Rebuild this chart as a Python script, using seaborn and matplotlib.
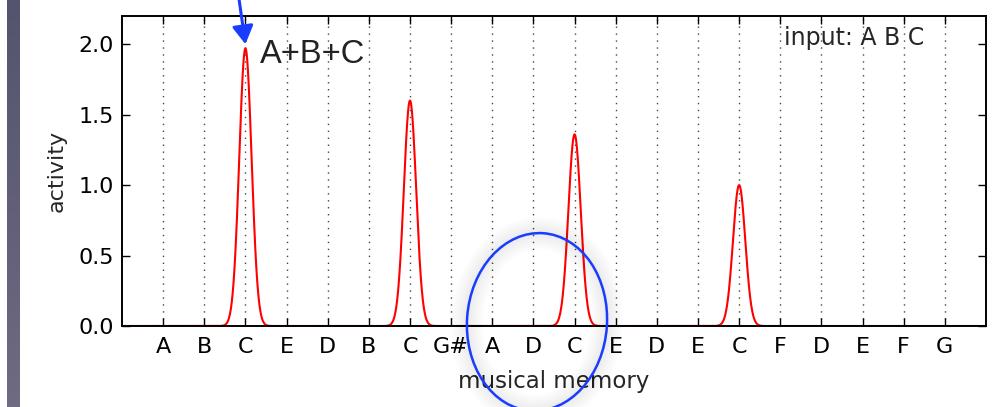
import numpy as np
import pandas as pd
import matplotlib
matplotlib.use("Agg")
import matplotlib.pyplot as plt
from matplotlib.patches import Ellipse
import seaborn as sns

# Memory slots along the x axis and the activity each slot receives
notes = ["A", "B", "C", "E", "D", "B", "C", "G#", "A", "D",
         "C", "E", "D", "E", "C", "F", "D", "E", "F", "G"]
slot_activity = [0, 0, 1.97, 0, 0, 0, 1.60, 0, 0, 0,
                 1.36, 0, 0, 0, 1.00, 0, 0, 0, 0, 0]
y_ticks = [0.0, 0.5, 1.0, 1.5, 2.0]

# Smooth activity profile: each slot contributes a narrow bump
kernel_sigma = 0.15
xs = np.linspace(-1, len(notes), 4000)
profile = np.zeros_like(xs)
for i, a in enumerate(slot_activity):
    profile += a * np.exp(-(xs - i) ** 2 / (2 * kernel_sigma ** 2))
df = pd.DataFrame({"slot": xs, "activity": profile})

sns.set_style("ticks")
plt.rcParams["font.family"] = ["DejaVu Sans"]

W, H = 1005, 407
fig = plt.figure(figsize=(W / 100, H / 100), dpi=100)

ax = fig.add_axes([122 / W, 1 - 326 / H, (986 - 122) / W, (326 - 16) / H])
sns.lineplot(data=df, x="slot", y="activity", color="red", lw=1.5, ax=ax)

FS = 16
ax.set_xlim(-1, len(notes))
ax.set_ylim(0, 2.2)
ax.set_xticks(range(len(notes)))
ax.set_xticklabels(notes, fontsize=FS)
ax.set_yticks(y_ticks)
ax.set_yticklabels([f"{t:.1f}" for t in y_ticks], fontsize=FS)
ax.set_xlabel("musical memory", fontsize=FS + 0.5, labelpad=9)
ax.set_ylabel("activity", fontsize=FS, labelpad=8)
ax.tick_params(direction="in", top=True, right=True, length=6, width=1,
               colors="black")
ax.tick_params(axis="x", pad=8)
ax.tick_params(axis="y", pad=6)
for s in ax.spines.values():
    s.set_linewidth(1.4)
    s.set_color("black")
ax.xaxis.grid(True, color="#444444", lw=1.0, linestyle=(0, (1, 4)))
ax.yaxis.grid(False)

ax.text(0.929, 0.93, "input: A B C", transform=ax.transAxes,
        ha="right", va="center", fontsize=FS + 1)

# Arrow to the strongest peak and its label
ax.annotate("", xy=(2.0, 2.0), xytext=(1.82, 2.37),
            arrowprops=dict(arrowstyle="-|>,head_length=0.55,head_width=0.32",
                            mutation_scale=20, color="#1a3cff", lw=2.2,
                            shrinkA=0, shrinkB=0),
            annotation_clip=False)
ax.text(2.36, 1.93, "A+B+C", fontsize=23.5, family="Liberation Sans",
        color="#222222", ha="left", va="center")

# Figure-level overlay in pixel coordinates
ov = fig.add_axes([0, 0, 1, 1], zorder=5)
ov.set_xlim(0, W)
ov.set_ylim(H, 0)
ov.axis("off")
ov.patch.set_alpha(0)

# faint haze around the ellipse
for k in range(10):
    ov.add_patch(Ellipse((537, 322), 140, 178, angle=4, fill=False,
                         lw=2 + k * 2.4, edgecolor="#000000",
                         alpha=0.007))
ov.add_patch(Ellipse((537, 322), 140, 178, angle=4, fill=False,
                     lw=1.8, edgecolor="#1a3cff"))

# slate bar on the left edge
grad = np.linspace(0, 1, 100).reshape(-1, 1)
cmap = matplotlib.colors.LinearSegmentedColormap.from_list(
    "slate", ["#54546e", "#6e6b82"])
ov.imshow(grad, cmap=cmap, extent=(7, 20, H, 0), aspect="auto", zorder=1)

fig.savefig("out.png", dpi=100)
